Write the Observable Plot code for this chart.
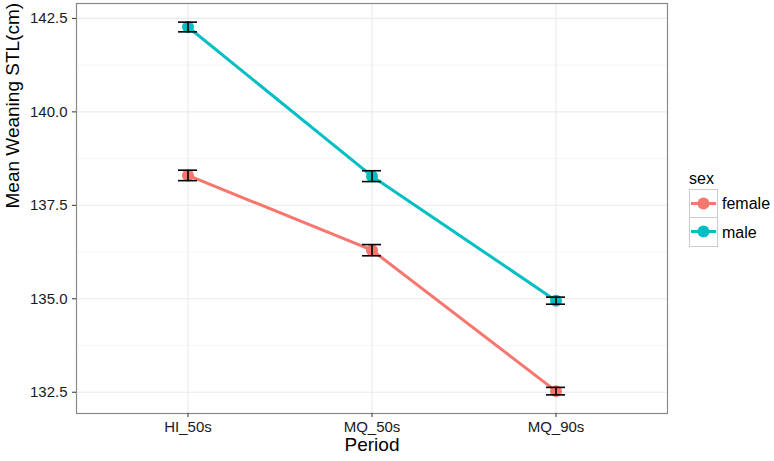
<!DOCTYPE html>
<html>
<head>
<meta charset="utf-8">
<script src="https://cdn.jsdelivr.net/npm/d3@7"></script>
<script src="https://cdn.jsdelivr.net/npm/@observablehq/plot@0.6"></script>
<style>
  html, body { margin: 0; padding: 0; background: #fff; }
  #wrap { position: relative; width: 774px; height: 461px; font-family: "Liberation Sans", Arial, sans-serif; }
  #legend { position: absolute; left: 689px; top: 168px; font-size: 16px; color: #000; }
  #legend .title { height: 21px; line-height: 21px; }
  #legend .row { display: flex; align-items: center; height: 29px; }
  #legend .key { width: 27px; height: 27px; border: 1px solid #cccccc; box-sizing: content-box; background: #fff; }
  #legend .row + .row .key { border-top: none; height: 28px; }
  #legend .lab { margin-left: 4px; }
</style>
</head>
<body>
<div id="wrap"></div>
<script>
const periods = ["HI_50s", "MQ_50s", "MQ_90s"];
const sexes = ["female", "male"];
const femaleMean = [138.30, 136.30, 132.53];
const femaleSE = [0.14, 0.15, 0.10];
const maleMean = [142.27, 138.28, 134.95];
const maleSE = [0.13, 0.145, 0.095];
const yTicks = [132.5, 135.0, 137.5, 140.0, 142.5];
const yMinorTicks = [133.75, 136.25, 138.75, 141.25];
const sexColors = ["#F8766D", "#00BFC4"];
const xTitle = "Period";
const yTitle = "Mean Weaning STL(cm)";
const legendTitle = "sex";

const rows = [];
periods.forEach((p, i) => {
  rows.push({period: p, sex: "female", mean: femaleMean[i], lo: femaleMean[i] - femaleSE[i], hi: femaleMean[i] + femaleSE[i]});
  rows.push({period: p, sex: "male", mean: maleMean[i], lo: maleMean[i] - maleSE[i], hi: maleMean[i] + maleSE[i]});
});
const yLo = d3.min(rows, d => d.lo), yHi = d3.max(rows, d => d.hi);
const ex = (yHi - yLo) * 0.05;

const pi = 1 - 19 / 184.69;
const chart = Plot.plot({
  width: 774,
  height: 461,
  marginLeft: 76,
  marginRight: 107,
  marginTop: 3,
  marginBottom: 48,
  style: {fontFamily: "Liberation Sans, Arial, sans-serif", background: "#fff"},
  x: {type: "band", domain: periods, paddingInner: pi, paddingOuter: 0.1 + pi / 2},
  y: {domain: [yLo - ex, yHi + ex]},
  color: {domain: sexes, range: sexColors},
  marks: [
    Plot.gridY(yMinorTicks, {stroke: "#f0f0f0", strokeOpacity: 1, strokeWidth: 0.6}),
    Plot.gridY(yTicks, {stroke: "#ebebeb", strokeOpacity: 1, strokeWidth: 1.1}),
    Plot.gridX(periods, {stroke: "#ebebeb", strokeOpacity: 1, strokeWidth: 1.1}),
    Plot.line(rows, {x: "period", y: "mean", z: "sex", stroke: "sex", strokeWidth: 3}),
    Plot.dot(rows, {x: "period", y: "mean", fill: "sex", r: 6}),
    Plot.ruleX(rows, {x: "period", y1: "lo", y2: "hi", stroke: "#000", strokeWidth: 1.6}),
    Plot.tickY(rows, {x: "period", y: "lo", stroke: "#000", strokeWidth: 1.6}),
    Plot.tickY(rows, {x: "period", y: "hi", stroke: "#000", strokeWidth: 1.6}),
    Plot.frame({stroke: "#8a8a8a", strokeWidth: 1.2}),
    Plot.axisY(yTicks, {tickFormat: d => d.toFixed(1), tickSize: 4, tickPadding: 5, fontSize: 15, color: "#1a1a1a", stroke: "#333", label: null}),
    Plot.axisX(periods, {tickSize: 4, tickPadding: 4, fontSize: 15, color: "#1a1a1a", stroke: "#333", label: null}),
    Plot.text([xTitle], {frameAnchor: "bottom", dy: 37, fontSize: 19, fill: "#000"}),
    Plot.text([yTitle], {frameAnchor: "left", dx: -64, rotate: -90, fontSize: 19, fill: "#000"})
  ]
});
const wrap = document.getElementById("wrap");
wrap.appendChild(chart);

const legend = document.createElement("div");
legend.id = "legend";
const t = document.createElement("div");
t.className = "title";
t.textContent = legendTitle;
legend.appendChild(t);
sexes.forEach((s, i) => {
  const row = document.createElement("div");
  row.className = "row";
  const key = document.createElement("div");
  key.className = "key";
  const svg = d3.create("svg").attr("width", 27).attr("height", 27);
  svg.append("line").attr("x1", 1).attr("x2", 26).attr("y1", 13.5).attr("y2", 13.5)
    .attr("stroke", sexColors[i]).attr("stroke-width", 3);
  svg.append("circle").attr("cx", 13.5).attr("cy", 13.5).attr("r", 6).attr("fill", sexColors[i]);
  key.appendChild(svg.node());
  const lab = document.createElement("span");
  lab.className = "lab";
  lab.textContent = s;
  row.appendChild(key);
  row.appendChild(lab);
  legend.appendChild(row);
});
wrap.appendChild(legend);
</script>
</body>
</html>
